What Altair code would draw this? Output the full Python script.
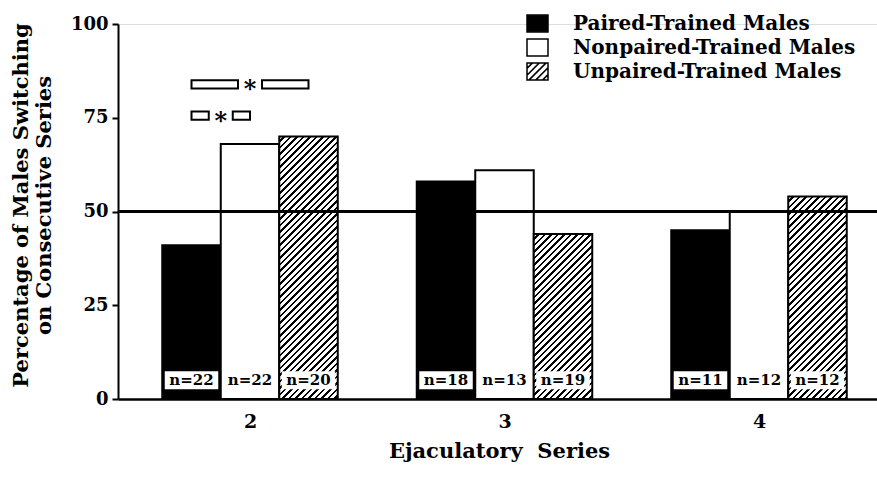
import altair as alt

# ---------------- data ----------------
groups = [2, 3, 4]
treatments = ["Paired-Trained Males", "Nonpaired-Trained Males", "Unpaired-Trained Males"]
paired = [41, 58, 45]
nonpaired = [68, 61, 50]
unpaired = [70, 44, 54]
n_paired = [22, 18, 11]
n_nonpaired = [22, 13, 12]
n_unpaired = [20, 19, 12]
y_ticks = [0, 25, 50, 75, 100]
chance_level = 50
# significance brackets (group, from-treatment index, to-treatment index, height in %)
sig_group = [2, 2]
sig_from = [0, 0]
sig_to = [2, 1]
sig_level = [83.9, 75.6]

# ---------------- layout / style ----------------
W, H = 759, 375
X_DOMAIN = [1.4813, 4.4637]
PX_X = W / (X_DOMAIN[1] - X_DOMAIN[0])
PX_Y = H / 100.0
BAR_W = 58.5 / PX_X          # one bar in x units
FONT = "DejaVu Serif"


def hatch(w, h, period=6.5, frac=0.4):
    L = w + h
    p = period / L
    stops = [{"offset": 0, "color": "white"}]
    t = 0.0
    while True:
        a = t + p * (1 - frac)
        if a >= 1:
            break
        b = min(t + p, 1)
        stops += [{"offset": a, "color": "white"}, {"offset": a, "color": "black"},
                  {"offset": b, "color": "black"}, {"offset": b, "color": "white"}]
        t += p
    d = w * w + h * h
    return {"gradient": "linear", "x1": 0, "y1": 0,
            "x2": w * L / d, "y2": h * L / d, "stops": stops}


series = [paired, nonpaired, unpaired]
ns = [n_paired, n_nonpaired, n_unpaired]
records = []
for gi, g in enumerate(groups):
    for k, t in enumerate(treatments):
        v = series[k][gi]
        paint = ["black", "white", None][k]
        if paint is None:
            paint = hatch(58.5, v * PX_Y)
        records.append({"group": g, "idx": k, "treatment": t, "value": v,
                        "nlabel": f"n={ns[k][gi]}", "paint": paint})

sig_records = [{"group": g, "a": a, "b": b, "level": lv}
               for g, a, b, lv in zip(sig_group, sig_from, sig_to, sig_level)]

# legend symbol paths
sq = "M-1,-0.8H1V0.8H-1Z"
diag = []
for c in [-1.3, -0.65, 0, 0.65, 1.3]:
    x0 = max(-1, c - 0.8)
    x1 = min(1, c + 0.8)
    if x1 > x0:
        diag.append(f"M{x0:.3f},{c - x0:.3f}L{x1:.3f},{c - x1:.3f}")
hatch_sym = sq + "".join(diag)

data = alt.Data(values=records)
sdata = alt.Data(values=sig_records)

xscale = alt.Scale(domain=X_DOMAIN, nice=False, zero=False)
yscale = alt.Scale(domain=[0, 100], nice=False)

x_axis = alt.Axis(values=groups, format="d", ticks=False, grid=False,
                  domainColor="black", domainWidth=2.5,
                  labelFont=FONT, labelFontWeight="bold", labelFontSize=19,
                  labelColor="black", labelPadding=13,
                  title="Ejaculatory\u00a0 Series", titleFont=FONT,
                  titleFontWeight="bold", titleFontSize=21, titleColor="black",
                  titleX=381, titleY=58, titleBaseline="alphabetic",
                  titleAlign="center")
y_axis = alt.Axis(values=y_ticks, grid=False, tickSize=6, tickWidth=2,
                  tickColor="black", domainColor="black", domainWidth=2,
                  labelFont=FONT, labelFontWeight="bold", labelFontSize=18,
                  labelColor="black", labelPadding=4,
                  title=["Percentage of Males Switching", "on Consecutive Series"],
                  titleFont=FONT, titleFontWeight="bold", titleFontSize=21,
                  titleColor="black", titleX=-91, titleY=181, titleAngle=270,
                  titleBaseline="alphabetic", titleAlign="center",
                  titleLineHeight=23)

base = alt.Chart(data).transform_calculate(
    xc=f"datum.group + (datum.idx - 1) * {BAR_W}",
    xl=f"datum.group + (datum.idx - 1) * {BAR_W} - {BAR_W / 2}",
    xr=f"datum.group + (datum.idx - 1) * {BAR_W} + {BAR_W / 2}",
    xbl=f"datum.group + (datum.idx - 1) * {BAR_W} - {BAR_W / 2 - 2.5 / PX_X}",
    xbr=f"datum.group + (datum.idx - 1) * {BAR_W} + {BAR_W / 2 - 2.5 / PX_X}",
    ymid="datum.value / 2",
)

legend = alt.Legend(title=None, orient="none", legendX=408, legendY=-12,
                    symbolSize=441, labelFont=FONT, labelFontWeight="bold",
                    labelFontSize=20, labelColor="black", labelOffset=24,
                    rowPadding=1, padding=0, labelLimit=0,
                    symbolStrokeWidth=1.5)

# hidden points that carry the legend (covered by the bars)
legend_pts = base.mark_point(filled=True, size=441, strokeWidth=1.5,
                             opacity=1).encode(
    x=alt.X("xc:Q", scale=xscale, axis=x_axis),
    y=alt.Y("ymid:Q", scale=yscale, axis=y_axis),
    fill=alt.Fill("treatment:N", scale=alt.Scale(domain=treatments,
                  range=["black", "white", "white"]), legend=legend),
    stroke=alt.Stroke("treatment:N", scale=alt.Scale(domain=treatments,
                      range=["black", "black", "black"]), legend=legend),
    shape=alt.Shape("treatment:N", scale=alt.Scale(domain=treatments,
                    range=[sq, sq, hatch_sym]), legend=legend),
)

bars = base.mark_rect(stroke="black", strokeWidth=2).encode(
    x=alt.X("xl:Q", scale=xscale, axis=x_axis),
    x2="xr:Q",
    y=alt.Y("value:Q", scale=yscale, axis=y_axis),
    y2=alt.datum(0),
    color=alt.Color("paint:N", scale=None),
)

chance = alt.Chart(data).mark_rule(color="black", strokeWidth=2.5).encode(
    y=alt.datum(chance_level, scale=yscale)
)

nbox = base.mark_rect(fill="white", strokeWidth=0).encode(
    x="xbl:Q", x2="xbr:Q", y=alt.datum(2.6), y2=alt.datum(7.4)
)
ntext = base.mark_text(font=FONT, fontWeight="bold", fontSize=15,
                       color="black", baseline="middle").encode(
    x="xc:Q", y=alt.datum(5.0), text="nlabel:N"
)

sig = alt.Chart(sdata).transform_calculate(
    xa=f"datum.group + (datum.a - 1) * {BAR_W}",
    xb=f"datum.group + (datum.b - 1) * {BAR_W}",
).transform_calculate(
    mid="(datum.xa + datum.xb) / 2",
    gl=f"(datum.xa + datum.xb) / 2 - {12 / PX_X}",
    gr=f"(datum.xa + datum.xb) / 2 + {12 / PX_X}",
    ylo="datum.level - 1.1",
    yhi="datum.level + 1.1",
)
sig_left = sig.mark_rect(fill="white", stroke="black", strokeWidth=2).encode(
    x="xa:Q", x2="gl:Q", y="ylo:Q", y2="yhi:Q")
sig_right = sig.mark_rect(fill="white", stroke="black", strokeWidth=2).encode(
    x="gr:Q", x2="xb:Q", y="ylo:Q", y2="yhi:Q")
sig_star = sig.mark_text(text="*", font=FONT, fontWeight="bold", fontSize=24,
                         color="black", baseline="alphabetic", dy=13).encode(
    x="mid:Q", y="level:Q")

chart = alt.layer(
    legend_pts, bars, chance, nbox, ntext, sig_left, sig_right, sig_star
).properties(
    width=W, height=H,
    autosize=alt.AutoSizeParams(type="none"),
    padding={"left": 118, "top": 24, "right": 0, "bottom": 80},
).configure_view(stroke=None).configure(background="white")

chart.save("out.html", embed_options={"renderer": "svg", "actions": False})
